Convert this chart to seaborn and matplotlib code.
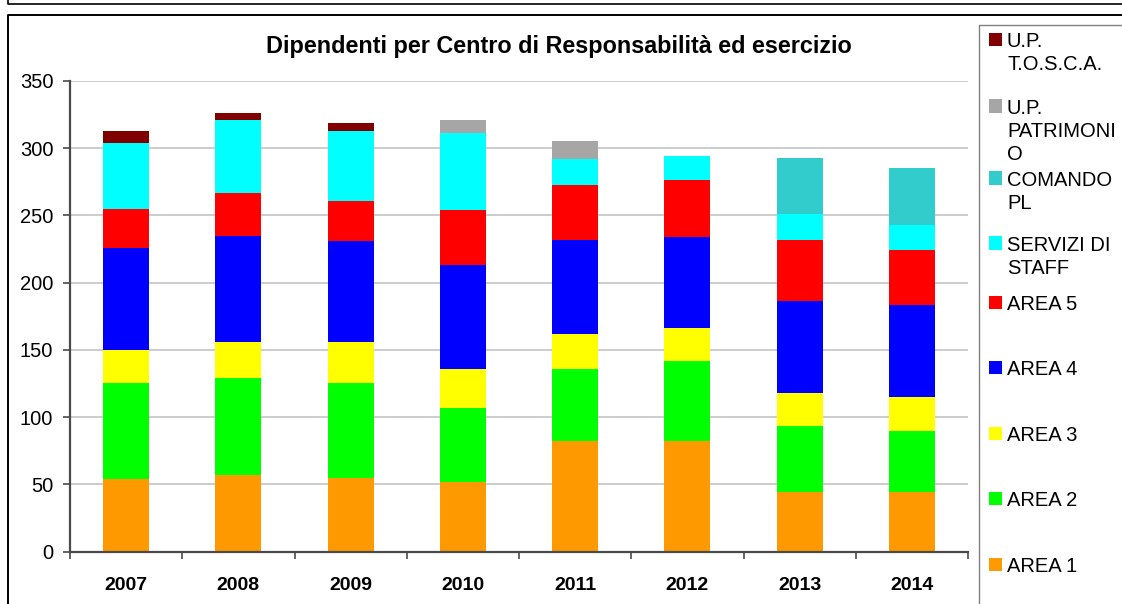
import numpy as np
import pandas as pd
import matplotlib
matplotlib.use("Agg")
import matplotlib.pyplot as plt
from matplotlib.lines import Line2D
from matplotlib.patches import Rectangle
import seaborn as sns


# Data (bottom of the stack first)
years = ["2007", "2008", "2009", "2010", "2011", "2012", "2013", "2014"]

area_1 = [54, 57, 55, 52, 82, 82, 44, 44]
area_2 = [71, 72, 70, 55, 54, 60, 49, 46]
area_3 = [25, 27, 31, 29, 26, 24, 25, 25]
area_4 = [76, 79, 75, 77, 70, 68, 68, 68]
area_5 = [29, 32, 30, 41, 41, 42, 46, 41]
servizi_staff = [49, 54, 52, 57, 19, 18, 19, 19]
comando_pl = [0, 0, 0, 0, 0, 0, 42, 42]
up_patrimonio = [0, 0, 0, 10, 13, 0, 0, 0]
up_tosca = [9, 5, 6, 0, 0, 0, 0, 0]

series_names = [
    "AREA 1", "AREA 2", "AREA 3", "AREA 4", "AREA 5",
    "SERVIZI DI STAFF", "COMANDO PL", "U.P. PATRIMONIO", "U.P. T.O.S.C.A.",
]
# legend text as it is wrapped in the original
legend_labels = [
    "AREA 1", "AREA 2", "AREA 3", "AREA 4", "AREA 5",
    "SERVIZI DI\nSTAFF", "COMANDO\nPL", "U.P.\nPATRIMONI\nO", "U.P.\nT.O.S.C.A.",
]
series_colors = [
    "#ff9900", "#00ff00", "#ffff00", "#0000ff", "#ff0000",
    "#00ffff", "#33cccc", "#a6a6a6", "#800000",
]

title = "Dipendenti per Centro di Responsabilità ed esercizio"

df = pd.DataFrame({
    "Anno": years,
    "AREA 1": area_1,
    "AREA 2": area_2,
    "AREA 3": area_3,
    "AREA 4": area_4,
    "AREA 5": area_5,
    "SERVIZI DI STAFF": servizi_staff,
    "COMANDO PL": comando_pl,
    "U.P. PATRIMONIO": up_patrimonio,
    "U.P. T.O.S.C.A.": up_tosca,
})
cum = df[series_names].cumsum(axis=1)

sns.set_theme(style="white")
plt.rcParams["font.family"] = ["Liberation Sans", "DejaVu Sans"]

W, H = 1122, 604


def fx(px):
    return px / W


def fy(py):
    return 1 - py / H


fig = plt.figure(figsize=(W / 100, H / 100), dpi=100)
ax = fig.add_axes([fx(70), fy(551.5), fx(968) - fx(70), fy(81) - fy(551.5)])

# stacked bars: draw cumulative totals from the top series down
for name, col in reversed(list(zip(series_names, series_colors))):
    sns.barplot(
        x=df["Anno"],
        y=cum[name],
        color=col,
        saturation=1,
        width=0.41,
        linewidth=0,
        ax=ax,
    )

ax.set_xlim(-0.5, len(years) - 0.5)
ax.set_ylim(0, 350)
ax.set_yticks(range(0, 351, 50))
ax.set_xlabel("")
ax.set_ylabel("")

ax.set_axisbelow(True)
ax.yaxis.grid(True, color="#bfbfbf", linewidth=1.1)
ax.xaxis.grid(False)
ax.spines[["top", "right"]].set_visible(False)
for side in ["left", "bottom"]:
    ax.spines[side].set_color("#4a4a4a")
    ax.spines[side].set_linewidth(1.6)

ax.tick_params(axis="y", left=True, length=5, width=1.2, color="#4a4a4a",
               pad=7, labelsize=14.5, labelcolor="black")
ax.set_xticks(np.arange(-0.5, len(years), 1), minor=True)
ax.tick_params(axis="x", which="minor", bottom=True, length=5, width=1.2,
               color="#4a4a4a")
ax.tick_params(axis="x", which="major", bottom=False, length=0, pad=18.5,
               labelsize=14, labelcolor="black")
for lbl in ax.get_xticklabels():
    lbl.set_fontweight("bold")

fig.text(fx(559), fy(47), title, ha="center", va="center",
         fontsize=16.8, fontweight="bold", color="black")

# outer frames
fig.add_artist(Line2D([fx(8), fx(8), fx(1122)], [fy(0), fy(4), fy(4)],
                      color="black", linewidth=1.2))
fig.add_artist(Line2D([fx(8), fx(8), fx(1122)], [fy(604), fy(15), fy(15)],
                      color="black", linewidth=1.4))
fig.add_artist(Line2D([fx(979), fx(979), fx(1122)], [fy(604), fy(25), fy(25)],
                      color="#808080", linewidth=1.0))

# legend, top entry first
legend_rows = [564, 498, 433, 367, 302, 243, 178, 106, 39]
for lab, col, yc in zip(legend_labels, series_colors, legend_rows):
    fig.add_artist(Rectangle((fx(989), fy(yc + 6.5)), 13 / W, 13 / H,
                             facecolor=col, edgecolor="none"))
    fig.text(fx(1007), fy(yc - 7), lab, ha="left", va="top",
             fontsize=14.5, linespacing=1.27, color="black")

fig.savefig("out.png", dpi=100)
